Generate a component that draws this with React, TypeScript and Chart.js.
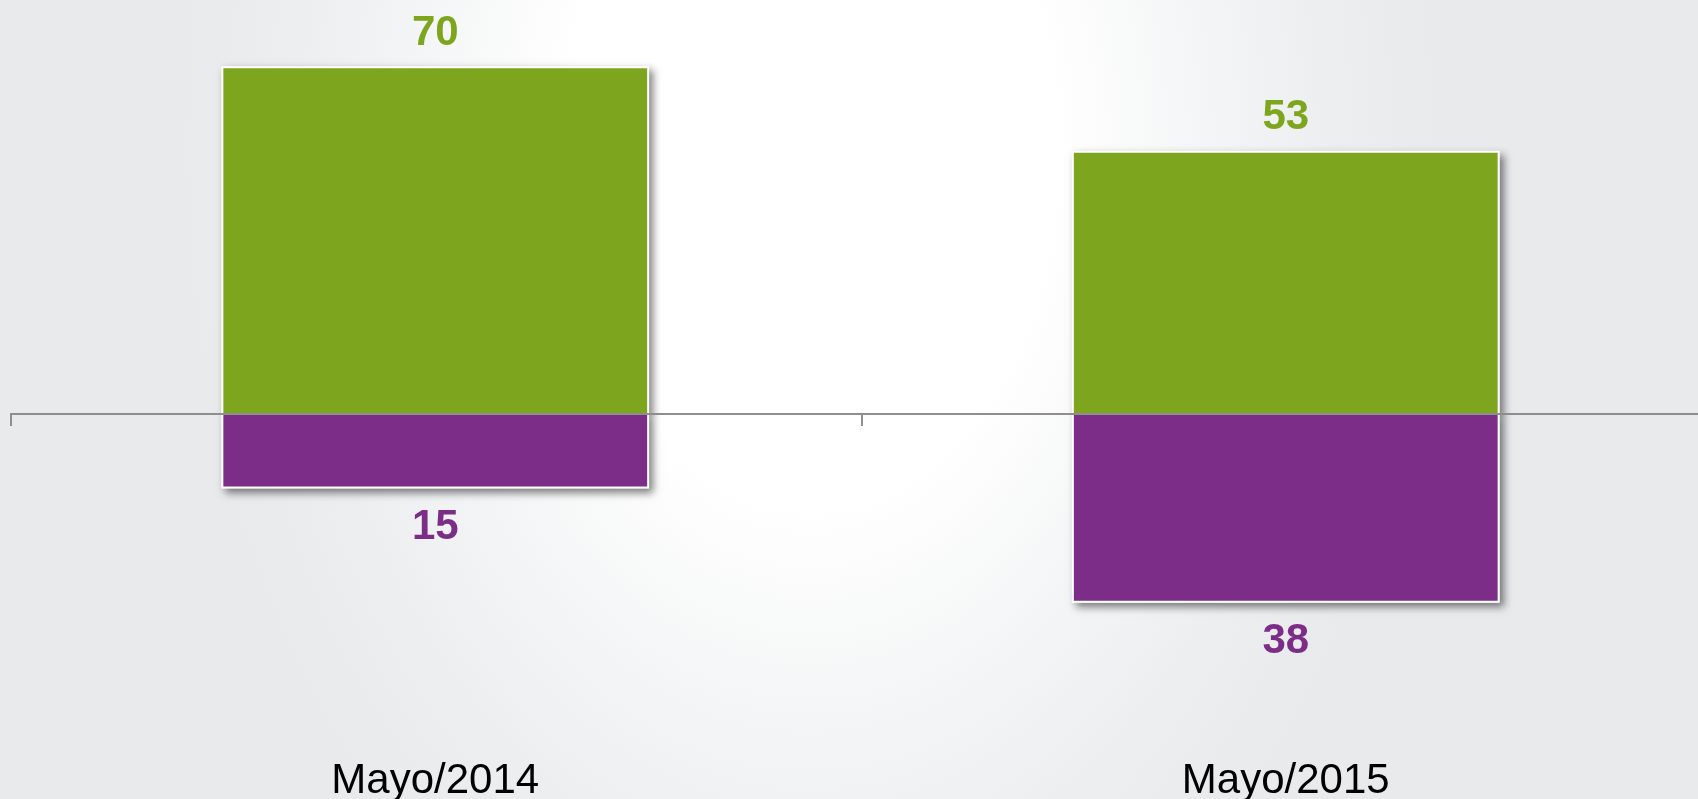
import { useEffect, useRef } from "react";
import { Chart, registerables } from "chart.js";

Chart.register(...registerables);

const categories = ["Mayo/2014", "Mayo/2015"];
const favorableValues = [70, 53];
const unfavorableValues = [15, 38];
const favorableColor = "#7da61e";
const unfavorableColor = "#7b2d87";
const fontFamily = 'Arial, "Liberation Sans", sans-serif';

// Draws a white backing (border) with a soft drop shadow under each bar element.
const shadowPlugin = {
  id: "barShadow",
  beforeDatasetsDraw(chart: any) {
    const ctx = chart.ctx;
    ctx.save();
    ctx.shadowColor = "rgba(0,0,0,0.5)";
    ctx.shadowBlur = 8;
    ctx.shadowOffsetX = 4;
    ctx.shadowOffsetY = 4;
    ctx.fillStyle = "#ffffff";
    chart.data.datasets.forEach((_ds: any, di: number) => {
      const meta = chart.getDatasetMeta(di);
      meta.data.forEach((bar: any) => {
        const p = bar.getProps(["x", "y", "base", "width"], true);
        const left = p.x - p.width / 2;
        const top = Math.min(p.y, p.base);
        const h = Math.abs(p.base - p.y);
        ctx.fillRect(left, top, p.width, h);
      });
    });
    ctx.restore();
  },
};

const overlayPlugin = {
  id: "overlay",
  afterDraw(chart: any) {
    const ctx = chart.ctx;
    const area = chart.chartArea;
    const xs = chart.scales.x;
    const ys = chart.scales.y;
    const y0 = ys.getPixelForValue(0);
    ctx.save();
    ctx.strokeStyle = "#8e8e8e";
    ctx.lineWidth = 2;
    ctx.beginPath();
    ctx.moveTo(area.left, y0);
    ctx.lineTo(area.right, y0);
    const n = categories.length;
    const step = n > 1 ? xs.getPixelForValue(1) - xs.getPixelForValue(0) : xs.width;
    for (let i = 0; i <= n; i++) {
      const x = Math.round(xs.getPixelForValue(0) - step / 2 + i * step) + 1;
      ctx.moveTo(x, y0);
      ctx.lineTo(x, y0 + 12);
    }
    ctx.stroke();

    ctx.font = `bold 42px ${fontFamily}`;
    ctx.textAlign = "center";
    ctx.textBaseline = "middle";
    chart.data.datasets.forEach((ds: any, di: number) => {
      const meta = chart.getDatasetMeta(di);
      meta.data.forEach((bar: any, i: number) => {
        const v = ds.data[i];
        ctx.fillStyle = ds.labelColor;
        const text = String(Math.abs(v));
        if (v >= 0) ctx.fillText(text, bar.x, bar.y - 33);
        else ctx.fillText(text, bar.x, bar.y + 39);
      });
    });
    ctx.restore();
  },
};

export default function App() {
  const ref = useRef<HTMLCanvasElement>(null);
  useEffect(() => {
    if (!ref.current) return;
    const chart = new Chart(ref.current, {
      type: "bar",
      data: {
        labels: categories,
        datasets: [
          {
            data: favorableValues,
            backgroundColor: favorableColor,
            borderColor: "#ffffff",
            borderWidth: 2,
            labelColor: favorableColor,
          } as any,
          {
            data: unfavorableValues.map((v) => -v),
            backgroundColor: unfavorableColor,
            borderColor: "#ffffff",
            borderWidth: 2,
            labelColor: unfavorableColor,
          } as any,
        ],
      },
      options: {
        responsive: false,
        animation: false,
        events: [],
        layout: { padding: { left: 10, right: 9, top: 16.7, bottom: 0 } },
        datasets: { bar: { categoryPercentage: 1, barPercentage: 0.503 } },
        plugins: { legend: { display: false }, tooltip: { enabled: false } },
        scales: {
          x: {
            stacked: true,
            offset: true,
            grid: { display: false },
            border: { display: false },
            ticks: {
              color: "#000000",
              padding: 36,
              font: { family: fontFamily, size: 42 },
            },
            afterFit: (scale: any) => {
              scale.height = 87;
            },
          },
          y: {
            stacked: true,
            display: false,
            min: -60,
            max: 80,
          },
        },
      },
      plugins: [shadowPlugin, overlayPlugin],
    });
    return () => chart.destroy();
  }, []);

  return (
    <div
      style={{
        position: "absolute",
        left: 0,
        top: 0,
        width: 1698,
        height: 799,
        overflow: "hidden",
        background:
          "radial-gradient(ellipse 760px 1100px at 810px 150px, #ffffff 0%, #ffffff 32%, #f4f5f6 52%, #eceef0 68%, #e9eaec 82%)",
      }}
    >
      <canvas ref={ref} width={1720} height={799} style={{ display: "block" }} />
    </div>
  );
}
